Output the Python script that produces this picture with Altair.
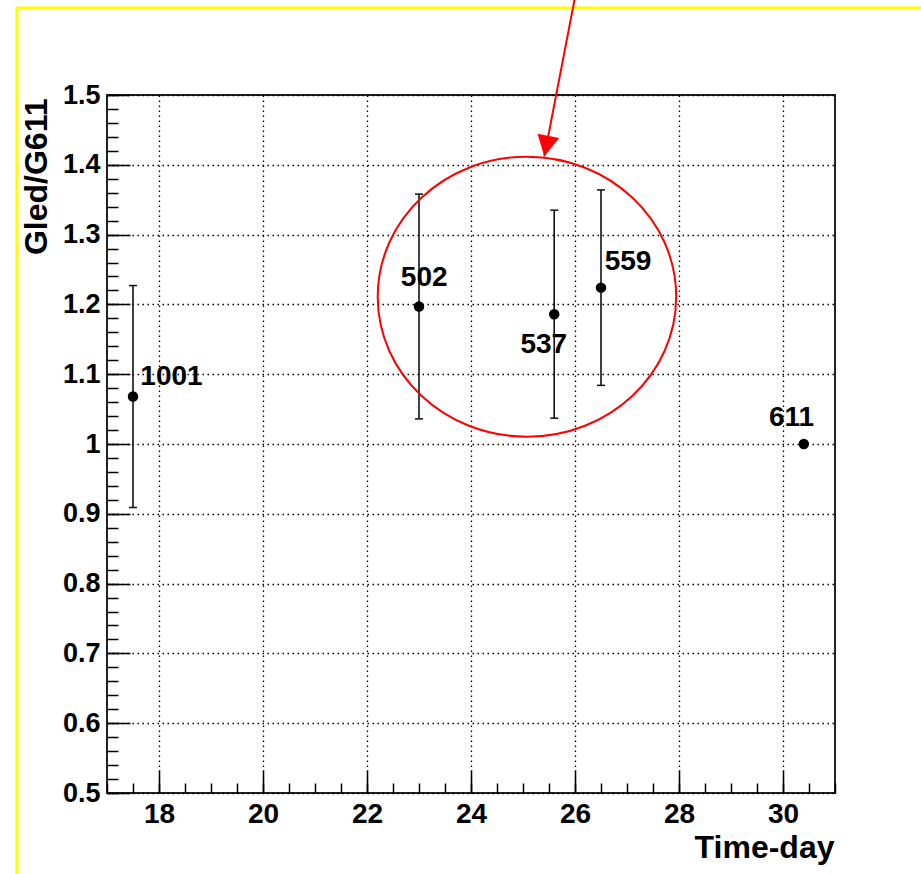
import altair as alt
import numpy as np
import pandas as pd

# Measurements: LED gain relative to run 611, versus time
run_names = ["1001", "502", "537", "559", "611"]
time_day = [17.5, 23.0, 25.6, 26.5, 30.4]
gain_ratio = [1.068, 1.197, 1.186, 1.224, 1.0]
gain_err = [0.159, 0.161, 0.149, 0.140, 0.0]

# Where each run number is written (centre x, baseline y, in data units)
label_x = [18.24, 23.10, 25.40, 27.02, 30.165]
label_y = [1.085, 1.226, 1.130, 1.250, 1.026]

# Axis ticks
x_major = [18, 20, 22, 24, 26, 28, 30]
x_minor = [round(v, 2) for v in np.arange(17.0, 31.01, 0.5)]
y_major = [0.5, 0.6, 0.7, 0.8, 0.9, 1.0, 1.1, 1.2, 1.3, 1.4, 1.5]
y_minor = [round(v, 2) for v in np.arange(0.5, 1.501, 0.02)]

# Highlight ellipse around the middle group and the arrow pointing at it
ellipse_x = [25.076]
ellipse_y = [1.211]
arrow_x = [26.0, 25.41]
arrow_y = [1.64, 1.412]

W, H = 728, 698
FONT = "Liberation Sans"

points = pd.DataFrame({"run": run_names, "t": time_day, "r": gain_ratio,
                       "e": gain_err, "lx": label_x, "ly": label_y})
xs = alt.Scale(domain=[17, 31], nice=False, zero=False)
ys = alt.Scale(domain=[0.5, 1.5], nice=False, zero=False)

major_x_axis = alt.Axis(
    orient="bottom", values=x_major, offset=-23, tickSize=23, tickWidth=1.5,
    tickColor="black", domain=False, grid=True, gridColor="black",
    gridDash=[1.5, 3.5], gridWidth=1.3, gridOpacity=1, labelFont=FONT,
    labelFontWeight="bold", labelFontSize=28, labelColor="black",
    labelPadding=7, labelOverlap=False, labelFlush=False, format="d",
    title="Time-day", titleFont=FONT, titleFontWeight="bold", titleFontSize=32,
    titleColor="black", titleAlign="right", titleBaseline="alphabetic",
    titleX=727, titleY=87,
)
major_y_axis = alt.Axis(
    orient="left", values=y_major, offset=-23, tickSize=23, tickWidth=1.5,
    tickColor="black", domain=False, grid=True, gridColor="black",
    gridDash=[1.5, 3.5], gridWidth=1.3, gridOpacity=1, labelFont=FONT,
    labelFontWeight="bold", labelFontSize=27, labelColor="black",
    labelPadding=7, labelOverlap=False, labelFlush=False, format=".1~f",
    title="Gled/G611", titleFont=FONT, titleFontWeight="bold", titleFontSize=32,
    titleColor="black", titleAngle=270, titleAlign="right",
    titleBaseline="alphabetic", titleX=-83.5, titleY=3,
)
minor_x_axis = alt.Axis(
    orient="bottom", values=x_minor, offset=-10, tickSize=10, tickWidth=1.5,
    tickColor="black", domain=False, grid=False, labels=False, title=None,
)
minor_y_axis = alt.Axis(
    orient="left", values=y_minor, offset=-11, tickSize=11, tickWidth=1.5,
    tickColor="black", domain=False, grid=False, labels=False, title=None,
)

base = alt.Chart(points)

# Vertical error bars (carry the labelled axes and grid)
bars = base.transform_filter("datum.e > 0").transform_calculate(
    lo="datum.r - datum.e", hi="datum.r + datum.e"
).mark_rule(color="#111", strokeWidth=1.6).encode(
    x=alt.X("t:Q", scale=xs, axis=major_x_axis),
    y=alt.Y("lo:Q", scale=ys, axis=major_y_axis),
    y2="hi:Q",
)

caps_lo = base.transform_filter("datum.e > 0").transform_calculate(
    lo="datum.r - datum.e"
).mark_tick(orient="horizontal", size=8, thickness=1.5, color="#111",
            opacity=1).encode(
    x=alt.X("t:Q", scale=xs, axis=None),
    y=alt.Y("lo:Q", scale=ys, axis=None),
)
caps_hi = base.transform_filter("datum.e > 0").transform_calculate(
    hi="datum.r + datum.e"
).mark_tick(orient="horizontal", size=8, thickness=1.5, color="#111",
            opacity=1).encode(
    x=alt.X("t:Q", scale=xs, axis=None),
    y=alt.Y("hi:Q", scale=ys, axis=None),
)

# Data points (carry the minor tick axes)
dots = base.mark_circle(size=110, color="black", opacity=1).encode(
    x=alt.X("t:Q", scale=xs, axis=minor_x_axis),
    y=alt.Y("r:Q", scale=ys, axis=minor_y_axis),
)

labels = base.mark_text(font=FONT, fontWeight="bold", fontSize=28,
                        align="center", baseline="alphabetic",
                        color="black").encode(
    x=alt.X("lx:Q", scale=xs, axis=None),
    y=alt.Y("ly:Q", scale=ys, axis=None),
    text="run:N",
)

# Red ellipse drawn as a custom symbol (unit-box path, four cubic arcs)
a, b, k = 1.066, 1.0, 0.5523
ellipse_path = (
    f"M{a},0 C{a},{b*k} {a*k},{b} 0,{b} "
    f"C{-a*k},{b} {-a},{b*k} {-a},0 "
    f"C{-a},{-b*k} {-a*k},{-b} 0,{-b} "
    f"C{a*k},{-b} {a},{-b*k} {a},0 Z"
)
ellipse = alt.Chart(pd.DataFrame({"x": ellipse_x, "y": ellipse_y})).mark_point(
    shape=ellipse_path, size=280 ** 2, filled=False, color="red",
    strokeWidth=2, opacity=1,
).encode(
    x=alt.X("x:Q", scale=xs, axis=None),
    y=alt.Y("y:Q", scale=ys, axis=None),
)

arrow_df = pd.DataFrame({"x": arrow_x, "y": arrow_y, "o": [0, 1]})
arrow_line = alt.Chart(arrow_df).mark_line(color="red", strokeWidth=2).encode(
    x=alt.X("x:Q", scale=xs, axis=None),
    y=alt.Y("y:Q", scale=ys, axis=None),
    order="o:Q",
)
arrow_head = alt.Chart(arrow_df.iloc[[1]]).mark_point(
    shape="M0,0 L1.05,-2 L-1.05,-2 Z", size=441, angle=11, filled=True,
    color="red", opacity=1,
).encode(
    x=alt.X("x:Q", scale=xs, axis=None),
    y=alt.Y("y:Q", scale=ys, axis=None),
)

# Yellow canvas border along the left and top edges
one = pd.DataFrame({"k": [0]})
border_left = alt.Chart(one).mark_rule(color="#ffff00", strokeWidth=3).encode(
    x=alt.value(-90), y=alt.value(-87), y2=alt.value(H + 90)
)
border_top = alt.Chart(one).mark_rule(color="#ffff00", strokeWidth=3).encode(
    x=alt.value(-91.5), x2=alt.value(W + 100), y=alt.value(-87)
)

chart = alt.layer(
    border_left, border_top, bars, caps_lo, caps_hi, dots, labels,
    ellipse, arrow_line, arrow_head,
).resolve_axis(
    x="independent", y="independent"
).properties(
    width=W, height=H,
    autosize=alt.AutoSizeParams(type="none"),
    padding={"left": 107, "top": 95, "right": 86, "bottom": 81},
    background="white",
).configure_view(
    stroke="#222", strokeWidth=2
)

chart.save("out.html", embed_options={"renderer": "svg", "actions": False})
